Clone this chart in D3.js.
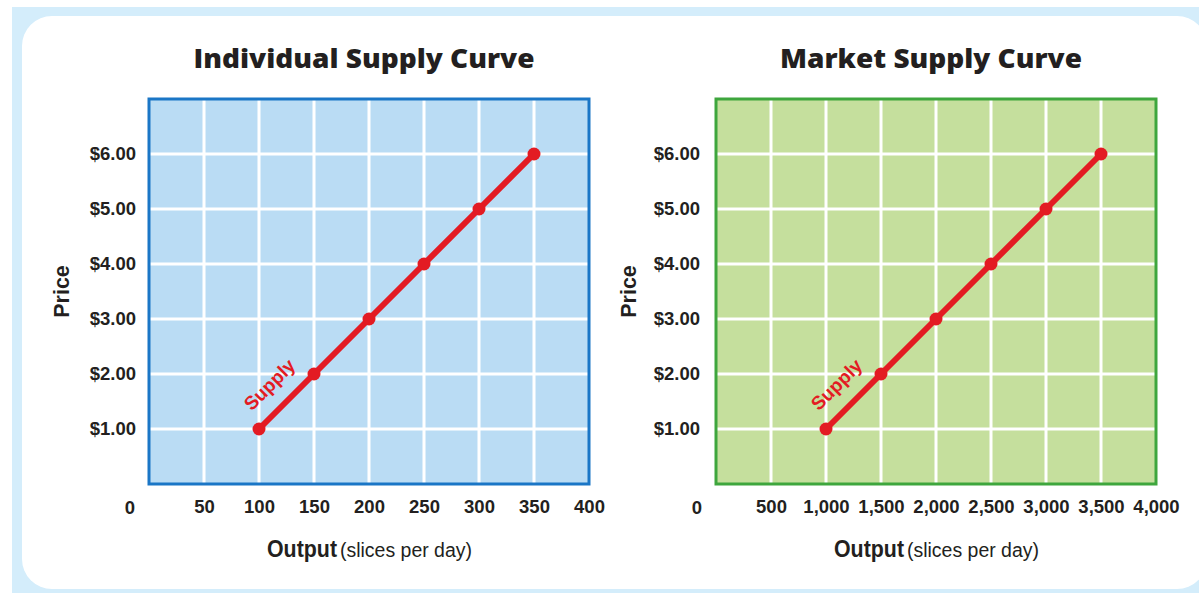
<!DOCTYPE html>
<html><head><meta charset="utf-8">
<script src="https://cdn.jsdelivr.net/npm/d3@7"></script>
<style>
html,body{margin:0;padding:0;background:#fff;}
svg{display:block;}
</style></head>
<body>
<svg id="chart" width="1199" height="593"></svg>
<script>
// ---- data ----
const prices = [1, 2, 3, 4, 5, 6];
const individualOutput = [100, 150, 200, 250, 300, 350];
const marketOutput = [1000, 1500, 2000, 2500, 3000, 3500];
const priceTicks = [1, 2, 3, 4, 5, 6];
const individualTicks = [50, 100, 150, 200, 250, 300, 350, 400];
const marketTicks = [500, 1000, 1500, 2000, 2500, 3000, 3500, 4000];
const titles = ["Individual Supply Curve", "Market Supply Curve"];

const svg = d3.select("#chart");
const W = 1199, H = 593;
const ink = "#231f20";
const red = "#e31b23";
const sans = "'Liberation Sans', Arial, sans-serif";

// background frame
svg.append("rect").attr("x", 12).attr("y", 7).attr("width", W - 12).attr("height", H - 7).attr("fill", "#d4edfb");
svg.append("rect").attr("x", 22).attr("y", 16).attr("width", 1185).attr("height", 573).attr("rx", 30).attr("fill", "#ffffff");

function panel(opt) {
  const g = svg.append("g");
  const x = d3.scaleLinear().domain([0, opt.xMax]).range([opt.left, opt.right]);
  const y = d3.scaleLinear().domain([0, 7]).range([484, 99]);
  const cx = (opt.left + opt.right) / 2;

  // plot area
  g.append("rect").attr("x", opt.left).attr("y", y(7)).attr("width", opt.right - opt.left)
    .attr("height", y(0) - y(7)).attr("fill", opt.fill);

  // grid
  g.append("g").selectAll("line").data(opt.xTicks.filter(d => d < opt.xMax)).join("line")
    .attr("x1", d => x(d)).attr("x2", d => x(d)).attr("y1", y(7)).attr("y2", y(0))
    .attr("stroke", "#fff").attr("stroke-width", 3);
  g.append("g").selectAll("line").data(priceTicks).join("line")
    .attr("x1", opt.left).attr("x2", opt.right).attr("y1", d => y(d)).attr("y2", d => y(d))
    .attr("stroke", "#fff").attr("stroke-width", 3);

  // border
  g.append("rect").attr("x", opt.left).attr("y", y(7)).attr("width", opt.right - opt.left)
    .attr("height", y(0) - y(7)).attr("fill", "none").attr("stroke", opt.stroke).attr("stroke-width", 3);

  // y axis labels
  const yAxis = d3.axisLeft(y).tickValues(priceTicks).tickSize(0).tickPadding(opt.yPad)
    .tickFormat(d3.format("$.2f"));
  const ya = g.append("g").attr("transform", `translate(${opt.left},0)`).call(yAxis);
  ya.select(".domain").remove();
  ya.selectAll("text").attr("font-family", sans).attr("font-weight", "bold")
    .attr("font-size", 18.5).attr("fill", ink);

  // x axis labels
  const xAxis = d3.axisBottom(x).tickValues(opt.xTicks).tickSize(0).tickPadding(16)
    .tickFormat(opt.xFormat);
  const xa = g.append("g").attr("transform", `translate(0,${y(0)})`).call(xAxis);
  xa.select(".domain").remove();
  xa.selectAll("text").attr("font-family", sans).attr("font-weight", "bold")
    .attr("font-size", 18.5).attr("fill", ink);

  // origin label
  g.append("text").attr("x", opt.left - 19).attr("y", y(0) + 30).attr("text-anchor", "middle")
    .attr("font-family", sans).attr("font-weight", "bold").attr("font-size", 18.5)
    .attr("fill", ink).text("0");

  // title
  g.append("text").attr("x", cx - 5 - opt.titleW / 2).attr("y", 68)
    .attr("textLength", opt.titleW).attr("lengthAdjust", "spacingAndGlyphs")
    .attr("font-family", "'Open Sans', sans-serif").attr("font-weight", 800)
    .attr("font-size", 27).attr("fill", ink).text(opt.title);

  // axis titles
  g.append("text").attr("transform", `translate(${opt.left - 80},${y(3.5)}) rotate(-90)`)
    .attr("text-anchor", "middle").attr("font-family", sans).attr("font-weight", "bold")
    .attr("font-size", 21.5).attr("fill", ink).text("Price");
  g.append("text").attr("x", cx - 102).attr("y", 557)
    .attr("textLength", 70).attr("lengthAdjust", "spacingAndGlyphs")
    .attr("font-family", sans).attr("font-weight", "bold").attr("font-size", 23)
    .attr("fill", ink).text("Output");
  g.append("text").attr("x", cx - 29).attr("y", 557)
    .attr("textLength", 132).attr("lengthAdjust", "spacingAndGlyphs")
    .attr("font-family", sans).attr("font-size", 20)
    .attr("fill", ink).text("(slices per day)");

  // supply line
  const pts = opt.qty.map((q, i) => [q, prices[i]]);
  g.append("path").datum(pts)
    .attr("d", d3.line().x(d => x(d[0])).y(d => y(d[1])))
    .attr("fill", "none").attr("stroke", red).attr("stroke-width", 6).attr("stroke-linecap", "round");
  g.append("g").selectAll("circle").data(pts).join("circle")
    .attr("cx", d => x(d[0])).attr("cy", d => y(d[1])).attr("r", 6.5).attr("fill", red);

  // supply label
  const lx = x(opt.qty[0] + (opt.qty[1] - opt.qty[0]) * 0.5) - 17;
  const ly = y(1.5) - 17;
  g.append("text").attr("transform", `translate(${lx},${ly}) rotate(-45)`)
    .attr("text-anchor", "middle").attr("dy", "0.35em")
    .attr("font-family", sans).attr("font-weight", "bold").attr("font-size", 19)
    .attr("fill", red).text("Supply");
}

panel({left: 149, right: 589, xMax: 400, xTicks: individualTicks, qty: individualOutput,
  xFormat: d3.format("d"), fill: "#badcf4", stroke: "#1a76c6", title: titles[0], titleW: 341, yPad: 13});
panel({left: 716, right: 1156, xMax: 4000, xTicks: marketTicks, qty: marketOutput,
  xFormat: d3.format(","), fill: "#c5df9d", stroke: "#3ea63d", title: titles[1], titleW: 302, yPad: 16});
</script>
</body></html>
